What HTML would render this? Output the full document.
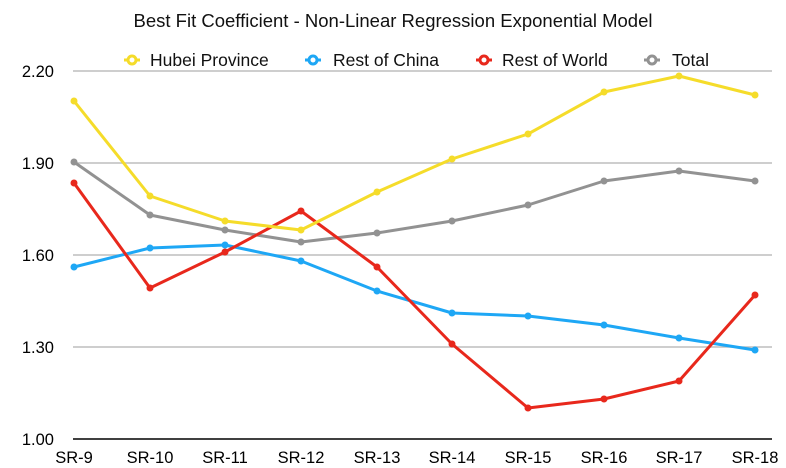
<!DOCTYPE html>
<html><head><style>body{margin:0;background:#fff}svg{display:block}</style></head><body>
<svg width="786" height="468" viewBox="0 0 786 468" xmlns="http://www.w3.org/2000/svg" font-family="Liberation Sans, Arial, sans-serif">
<rect width="786" height="468" fill="#fff"/>
<text x="393" y="27" text-anchor="middle" font-size="18.5" fill="#111">Best Fit Coefficient - Non-Linear Regression Exponential Model</text>
<g stroke="#bdbdbd" stroke-width="1.5">
<line x1="73" y1="71" x2="772" y2="71"/><line x1="73" y1="163" x2="772" y2="163"/><line x1="73" y1="255" x2="772" y2="255"/><line x1="73" y1="347" x2="772" y2="347"/>
</g>
<line x1="73" y1="439" x2="772" y2="439" stroke="#000" stroke-width="1.5"/>
<g font-size="16.5" fill="#000" text-anchor="end">
<text x="54" y="77">2.20</text><text x="54" y="169">1.90</text><text x="54" y="261">1.60</text><text x="54" y="353">1.30</text><text x="54" y="445">1.00</text>
</g>
<g font-size="16.5" fill="#000" text-anchor="middle">
<text x="74" y="463">SR-9</text><text x="150" y="463">SR-10</text><text x="225" y="463">SR-11</text><text x="301" y="463">SR-12</text><text x="377" y="463">SR-13</text><text x="452" y="463">SR-14</text><text x="528" y="463">SR-15</text><text x="604" y="463">SR-16</text><text x="679" y="463">SR-17</text><text x="755" y="463">SR-18</text>
</g>
<g font-size="17.5" fill="#111">
<line x1="124" y1="60" x2="140" y2="60" stroke="#f5dc2a" stroke-width="3"/><circle cx="132" cy="60" r="4" fill="#fff" stroke="#f5dc2a" stroke-width="3"/><text x="150" y="66">Hubei Province</text>
<line x1="305" y1="60" x2="321" y2="60" stroke="#1ea7f5" stroke-width="3"/><circle cx="313" cy="60" r="4" fill="#fff" stroke="#1ea7f5" stroke-width="3"/><text x="333" y="66">Rest of China</text>
<line x1="476" y1="60" x2="492" y2="60" stroke="#e8281c" stroke-width="3"/><circle cx="484" cy="60" r="4" fill="#fff" stroke="#e8281c" stroke-width="3"/><text x="502" y="66">Rest of World</text>
<line x1="644" y1="60" x2="660" y2="60" stroke="#929292" stroke-width="3"/><circle cx="652" cy="60" r="4" fill="#fff" stroke="#929292" stroke-width="3"/><text x="672" y="66">Total</text>
</g>
<g fill="none" stroke-width="3" stroke-linejoin="round">
<polyline stroke="#929292" points="74,162 150,215 225,230 301,242 377,233 452,221 528,205 604,181 679,171 755,181"/>
<polyline stroke="#1ea7f5" points="74,267 150,248 225,245 301,261 377,291 452,313 528,316 604,325 679,338 755,350"/>
<polyline stroke="#e8281c" points="74,183 150,288 225,252 301,211 377,267 452,344 528,408 604,399 679,381 755,295"/>
<polyline stroke="#f5dc2a" points="74,101 150,196 225,221 301,230 377,192 452,159 528,134 604,92 679,76 755,95"/>
</g>
<g fill="#929292"><circle cx="74" cy="162" r="3.5"/><circle cx="150" cy="215" r="3.5"/><circle cx="225" cy="230" r="3.5"/><circle cx="301" cy="242" r="3.5"/><circle cx="377" cy="233" r="3.5"/><circle cx="452" cy="221" r="3.5"/><circle cx="528" cy="205" r="3.5"/><circle cx="604" cy="181" r="3.5"/><circle cx="679" cy="171" r="3.5"/><circle cx="755" cy="181" r="3.5"/></g>
<g fill="#1ea7f5"><circle cx="74" cy="267" r="3.5"/><circle cx="150" cy="248" r="3.5"/><circle cx="225" cy="245" r="3.5"/><circle cx="301" cy="261" r="3.5"/><circle cx="377" cy="291" r="3.5"/><circle cx="452" cy="313" r="3.5"/><circle cx="528" cy="316" r="3.5"/><circle cx="604" cy="325" r="3.5"/><circle cx="679" cy="338" r="3.5"/><circle cx="755" cy="350" r="3.5"/></g>
<g fill="#e8281c"><circle cx="74" cy="183" r="3.5"/><circle cx="150" cy="288" r="3.5"/><circle cx="225" cy="252" r="3.5"/><circle cx="301" cy="211" r="3.5"/><circle cx="377" cy="267" r="3.5"/><circle cx="452" cy="344" r="3.5"/><circle cx="528" cy="408" r="3.5"/><circle cx="604" cy="399" r="3.5"/><circle cx="679" cy="381" r="3.5"/><circle cx="755" cy="295" r="3.5"/></g>
<g fill="#f5dc2a"><circle cx="74" cy="101" r="3.5"/><circle cx="150" cy="196" r="3.5"/><circle cx="225" cy="221" r="3.5"/><circle cx="301" cy="230" r="3.5"/><circle cx="377" cy="192" r="3.5"/><circle cx="452" cy="159" r="3.5"/><circle cx="528" cy="134" r="3.5"/><circle cx="604" cy="92" r="3.5"/><circle cx="679" cy="76" r="3.5"/><circle cx="755" cy="95" r="3.5"/></g>
</svg>
</body></html>
